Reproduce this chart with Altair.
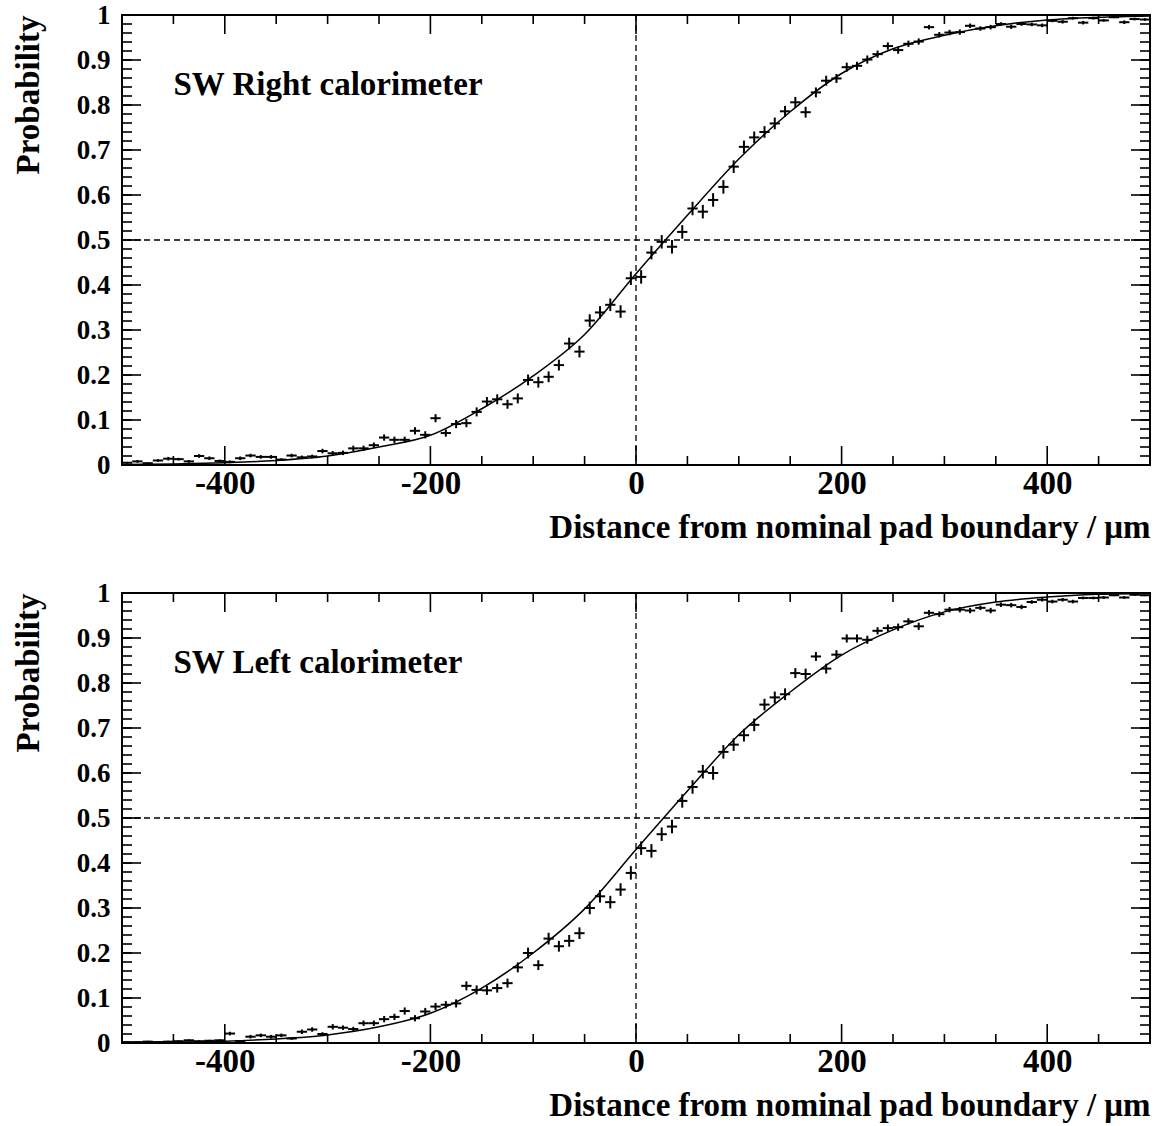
import altair as alt
import pandas as pd

# ---------------- data ----------------
BIN_HALF = 5
bin_centers = list(range(-495, 500, 10))

right_vals = [
    0.005, 0.008, 0.004, 0.010, 0.014, 0.013, 0.008, 0.020, 0.015, 0.009,
    0.007, 0.015, 0.021, 0.018, 0.018, 0.012, 0.021, 0.017, 0.019, 0.031,
    0.026, 0.027, 0.037, 0.037, 0.044, 0.061, 0.056, 0.056, 0.076, 0.067,
    0.104, 0.071, 0.091, 0.093, 0.118, 0.141, 0.146, 0.135, 0.148, 0.189,
    0.184, 0.196, 0.222, 0.270, 0.252, 0.321, 0.339, 0.356, 0.341, 0.415,
    0.418, 0.472, 0.496, 0.485, 0.518, 0.570, 0.563, 0.589, 0.618, 0.663,
    0.707, 0.728, 0.740, 0.759, 0.786, 0.806, 0.784, 0.828, 0.854, 0.859,
    0.884, 0.887, 0.901, 0.913, 0.931, 0.922, 0.936, 0.941, 0.973, 0.956,
    0.961, 0.962, 0.976, 0.970, 0.973, 0.980, 0.974, 0.980, 0.979, 0.977,
    0.987, 0.985, 0.993, 0.983, 0.993, 0.988, 0.995, 0.984, 0.991, 0.990,
]
right_errs = [
    0.002, 0.003, 0.002, 0.003, 0.004, 0.003, 0.003, 0.004, 0.004, 0.003,
    0.003, 0.004, 0.004, 0.004, 0.004, 0.003, 0.004, 0.004, 0.004, 0.005,
    0.005, 0.005, 0.006, 0.006, 0.006, 0.007, 0.007, 0.007, 0.008, 0.008,
    0.009, 0.008, 0.009, 0.009, 0.010, 0.010, 0.011, 0.010, 0.011, 0.012,
    0.012, 0.012, 0.012, 0.013, 0.013, 0.014, 0.014, 0.014, 0.014, 0.015,
    0.015, 0.015, 0.015, 0.015, 0.015, 0.015, 0.015, 0.015, 0.015, 0.014,
    0.014, 0.013, 0.013, 0.013, 0.012, 0.012, 0.012, 0.011, 0.011, 0.010,
    0.010, 0.009, 0.009, 0.008, 0.008, 0.008, 0.007, 0.007, 0.005, 0.006,
    0.006, 0.006, 0.005, 0.005, 0.005, 0.004, 0.005, 0.004, 0.004, 0.004,
    0.003, 0.004, 0.003, 0.004, 0.003, 0.003, 0.002, 0.004, 0.003, 0.003,
]

left_vals = [
    0.002, 0.002, 0.003, 0.002, 0.003, 0.004, 0.006, 0.004, 0.005, 0.006,
    0.021, 0.004, 0.014, 0.017, 0.014, 0.017, 0.010, 0.025, 0.030, 0.020,
    0.036, 0.034, 0.031, 0.044, 0.044, 0.053, 0.058, 0.071, 0.055, 0.070,
    0.081, 0.085, 0.088, 0.127, 0.118, 0.117, 0.122, 0.133, 0.168, 0.200,
    0.173, 0.232, 0.215, 0.227, 0.244, 0.300, 0.326, 0.313, 0.341, 0.378,
    0.433, 0.427, 0.464, 0.481, 0.538, 0.569, 0.603, 0.600, 0.647, 0.663,
    0.684, 0.707, 0.752, 0.768, 0.775, 0.822, 0.820, 0.859, 0.832, 0.863,
    0.899, 0.899, 0.896, 0.916, 0.922, 0.924, 0.937, 0.926, 0.956, 0.953,
    0.963, 0.963, 0.961, 0.967, 0.961, 0.974, 0.973, 0.969, 0.980, 0.985,
    0.981, 0.985, 0.981, 0.989, 0.989, 0.990, 0.995, 0.990, 0.996, 0.995,
]
left_errs = [
    0.001, 0.001, 0.002, 0.001, 0.002, 0.002, 0.002, 0.002, 0.002, 0.002,
    0.004, 0.002, 0.004, 0.004, 0.004, 0.004, 0.003, 0.005, 0.005, 0.004,
    0.006, 0.005, 0.005, 0.006, 0.006, 0.007, 0.007, 0.008, 0.007, 0.008,
    0.008, 0.008, 0.009, 0.010, 0.010, 0.010, 0.010, 0.010, 0.011, 0.012,
    0.011, 0.013, 0.012, 0.013, 0.013, 0.014, 0.014, 0.014, 0.014, 0.015,
    0.015, 0.015, 0.015, 0.015, 0.015, 0.015, 0.015, 0.015, 0.015, 0.014,
    0.014, 0.014, 0.013, 0.013, 0.013, 0.011, 0.012, 0.010, 0.011, 0.010,
    0.009, 0.009, 0.009, 0.008, 0.008, 0.008, 0.007, 0.008, 0.006, 0.006,
    0.006, 0.006, 0.006, 0.005, 0.006, 0.005, 0.005, 0.005, 0.004, 0.004,
    0.004, 0.004, 0.004, 0.003, 0.003, 0.003, 0.002, 0.003, 0.002, 0.002,
]

fit_x = [-500, -450, -400, -350, -300, -250, -200, -150, -100, -50, 0,
         50, 100, 150, 200, 250, 300, 350, 400, 450, 500]
right_fit = [0.001, 0.002, 0.005, 0.010, 0.020, 0.040, 0.066, 0.125, 0.198,
             0.290, 0.425, 0.555, 0.680, 0.785, 0.870, 0.925, 0.955, 0.976,
             0.989, 0.995, 0.998]
left_fit = [0.001, 0.002, 0.004, 0.009, 0.018, 0.036, 0.066, 0.122, 0.200,
            0.298, 0.430, 0.560, 0.685, 0.780, 0.862, 0.918, 0.958, 0.980,
            0.991, 0.997, 0.999]

x_major = [-400, -200, 0, 200, 400]
x_minor = [-450, -350, -300, -250, -150, -100, -50, 50, 100, 150, 250, 300, 350, 450]
y_major = [0, 0.1, 0.2, 0.3, 0.4, 0.5, 0.6, 0.7, 0.8, 0.9, 1.0]
y_minor = [round(i * 0.02, 2) for i in range(51)]

W, H = 1028, 450
FONT = "Liberation Serif"

xscale = alt.Scale(domain=[-500, 500], nice=False, zero=False)
yscale = alt.Scale(domain=[0, 1], nice=False, zero=False)
xaxis = alt.Axis(
    title="Distance from nominal pad boundary / μm",
    values=x_major, ticks=False, tickSize=0, domain=False, grid=False,
    labelPadding=2, labelFontSize=33,
    labelExpr="datum.value < 0 ? '-' + abs(datum.value) : '' + datum.value",
    titleX=W, titleY=72, titleAlign="right", titleBaseline="alphabetic",
    titleAngle=0,
)
yaxis = alt.Axis(
    title="Probability",
    values=y_major, ticks=False, tickSize=0, domain=False, grid=False,
    labelPadding=12, labelFontSize=27, format=".1~f",
    titleX=-84, titleY=0, titleAlign="right", titleBaseline="alphabetic",
    titleAngle=270,
)


def X(f):
    return alt.X(f"{f}:Q", scale=xscale, axis=xaxis)


def Y(f):
    return alt.Y(f"{f}:Q", scale=yscale, axis=yaxis)


def panel(vals, errs, fit, label):
    pts = pd.DataFrame({
        "x": bin_centers,
        "xlo": [c - BIN_HALF for c in bin_centers],
        "xhi": [c + BIN_HALF for c in bin_centers],
        "y": vals,
        "ylo": [v - e for v, e in zip(vals, errs)],
        "yhi": [v + e for v, e in zip(vals, errs)],
    })
    fitdf = pd.DataFrame({"x": fit_x, "y": fit})

    hbar = alt.Chart(pts).mark_rule(color="black", strokeWidth=2).encode(
        x=X("xlo"), x2="xhi", y=Y("y"))
    vbar = alt.Chart(pts).mark_rule(color="black", strokeWidth=2).encode(
        x=X("x"), y=Y("ylo"), y2="yhi")
    curve = alt.Chart(fitdf).mark_line(
        color="black", strokeWidth=1.5, interpolate="monotone", clip=True
    ).encode(x=X("x"), y=Y("y"))

    vdash = alt.Chart(pd.DataFrame({"x": [0]})).mark_rule(
        color="black", strokeWidth=1.3, strokeDash=[6, 4]).encode(x=X("x"))
    hdash = alt.Chart(pd.DataFrame({"y": [0.5]})).mark_rule(
        color="black", strokeWidth=1.3, strokeDash=[6, 4]).encode(y=Y("y"))

    xmaj = pd.DataFrame({"t": x_major})
    xmin = pd.DataFrame({"t": x_minor})
    ymaj = pd.DataFrame({"t": y_major})
    ymin = pd.DataFrame({"t": y_minor})
    tk = dict(color="black", strokeWidth=1.6)
    ticks = [
        alt.Chart(xmaj).mark_rule(**tk).encode(x=X("t"), y=alt.value(H), y2=alt.value(H - 19)),
        alt.Chart(xmaj).mark_rule(**tk).encode(x=X("t"), y=alt.value(0), y2=alt.value(19)),
        alt.Chart(xmin).mark_rule(**tk).encode(x=X("t"), y=alt.value(H), y2=alt.value(H - 9)),
        alt.Chart(xmin).mark_rule(**tk).encode(x=X("t"), y=alt.value(0), y2=alt.value(9)),
        alt.Chart(ymaj).mark_rule(**tk).encode(y=Y("t"), x=alt.value(0), x2=alt.value(19)),
        alt.Chart(ymaj).mark_rule(**tk).encode(y=Y("t"), x=alt.value(W), x2=alt.value(W - 19)),
        alt.Chart(ymin).mark_rule(**tk).encode(y=Y("t"), x=alt.value(0), x2=alt.value(10)),
        alt.Chart(ymin).mark_rule(**tk).encode(y=Y("t"), x=alt.value(W), x2=alt.value(W - 10)),
    ]

    text = alt.Chart(pd.DataFrame({"x": [-450], "y": [0.822], "t": [label]})).mark_text(
        align="left", baseline="alphabetic", font=FONT, fontWeight="bold",
        fontSize=33, color="black"
    ).encode(x=X("x"), y=Y("y"), text="t:N")

    return alt.layer(curve, hbar, vbar, vdash, hdash, *ticks, text).properties(
        width=W, height=H)


top = panel(right_vals, right_errs, right_fit, "SW Right calorimeter")
bottom = panel(left_vals, left_errs, left_fit, "SW Left calorimeter")

chart = alt.vconcat(top, bottom, spacing=128, bounds="flush").properties(
    padding={"left": 11, "top": 0, "right": 0, "bottom": 5},
    background="white",
).configure_view(
    stroke="black", strokeWidth=2
).configure_axis(
    labelFont=FONT, labelFontWeight="bold", labelColor="black",
    titleFont=FONT, titleFontWeight="bold", titleFontSize=33, titleColor="black",
)

chart.save("out.html", embed_options={"renderer": "svg", "actions": False})
